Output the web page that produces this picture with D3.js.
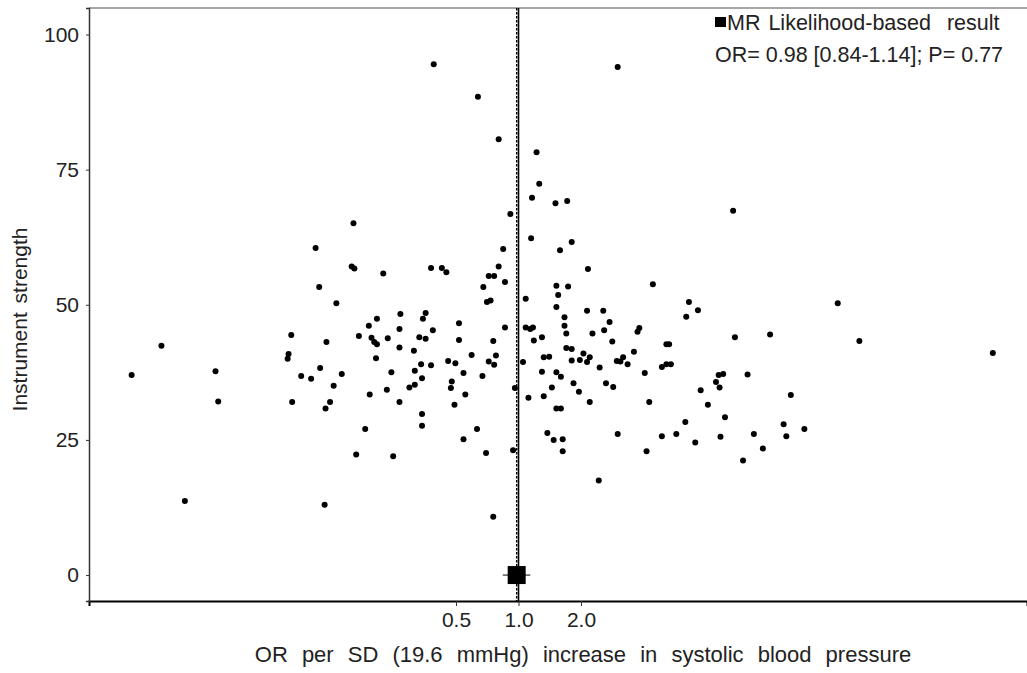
<!DOCTYPE html>
<html><head><meta charset="utf-8">
<script src="https://cdn.jsdelivr.net/npm/d3@7/dist/d3.min.js"></script>
<style>
body{margin:0;background:#fff}
text{font-family:"Liberation Sans",Arial,sans-serif;fill:#222}
</style>
</head><body><svg id="c" width="1027" height="673"></svg>
<script>
// ln(OR) per SD increase for each genetic instrument
const logOR = [-4.29,-3.96,-3.70,-3.36,-3.33,-2.55,-2.56,-2.52,-2.51,-2.41,-2.30,-2.25,-2.21,-2.20,-2.15,-2.14,-2.13,-2.09,-2.05,-2.02,
-1.96,-1.85,-1.82,-1.83,-1.80,-1.77,-1.70,-1.66,-1.65,-1.63,-1.60,-1.57,-1.57,-1.58,-1.50,-1.46,-1.45,-1.41,-1.39,-1.32,
-1.32,-1.32,-1.31,-1.21,-1.15,-1.16,-1.15,-1.10,-1.08,-1.07,-1.07,-1.07,-1.06,-1.03,-1.03,-0.97,-0.97,-0.95,-0.94,-0.85,
-0.80,-0.78,-0.74,-0.75,-0.71,-0.70,-0.66,-0.66,-0.61,-0.61,-0.59,-0.52,-0.46,-0.45,-0.40,-0.39,-0.36,-0.35,-0.33,-0.27,
-0.33,-0.31,-0.28,-0.27,-0.28,-0.25,-0.22,-0.22,-0.17,-0.15,-0.15,-0.09,-0.06,-0.04,0.05,0.08,0.08,0.13,0.16,0.11,
0.15,0.14,0.17,0.20,0.23,0.26,0.26,0.28,0.28,0.34,0.32,0.37,0.39,0.41,0.42,0.42,0.42,0.42,0.44,0.46,
0.47,0.47,0.49,0.49,0.51,0.51,0.53,0.53,0.54,0.55,0.59,0.59,0.59,0.61,0.67,0.68,0.72,0.76,0.76,0.77,
0.79,0.79,0.82,0.89,0.90,0.94,0.95,0.97,1.01,1.04,1.05,1.09,1.13,1.10,1.10,1.16,1.21,1.28,1.32,1.34,
1.40,1.42,1.45,1.49,1.59,1.59,1.64,1.69,1.64,1.67,1.75,1.85,1.86,1.89,1.96,1.99,2.02,2.10,2.19,2.22,
2.23,2.24,2.27,2.29,2.38,2.40,2.49,2.54,2.61,2.71,2.79,2.94,2.97,3.02,3.17,3.54,3.78,5.26];
// instrument strength for each genetic instrument
const strength = [37.0,42.4,13.7,37.7,32.1,40.9,40.0,44.4,32.0,36.8,36.3,60.5,53.3,38.3,13.0,30.8,43.1,32.0,35.0,50.3,
37.2,57.1,56.7,65.1,22.3,44.2,27.0,46.1,33.4,43.9,43.1,42.7,47.4,40.1,55.8,34.3,43.8,37.5,22.0,42.1,
45.5,32.0,48.3,34.7,35.2,41.5,37.8,44.0,39.0,36.4,29.8,27.6,47.4,48.5,43.7,56.8,38.8,45.3,94.5,56.8,
56.0,39.6,35.8,34.6,31.5,39.2,46.6,43.5,37.4,25.1,33.4,40.7,27.0,88.5,36.8,53.3,22.6,50.5,55.3,55.3,
39.5,50.8,43.3,38.9,10.8,40.6,80.6,57.1,60.3,54.2,45.8,66.8,23.1,34.6,39.4,51.1,45.8,45.5,45.8,32.8,
69.8,62.3,43.4,78.2,72.4,44.0,37.6,33.1,40.3,40.4,26.3,34.7,25.0,68.8,53.5,49.6,37.5,30.8,51.8,60.1,
36.7,30.8,25.1,22.9,47.7,46.1,44.7,42.0,69.2,53.4,61.6,41.8,39.7,35.5,33.9,39.8,41.0,48.9,39.4,56.6,
40.3,32.0,44.7,17.5,38.4,48.9,45.3,35.5,46.8,43.2,34.8,39.6,39.5,26.1,94.0,40.3,39.0,41.3,45.0,45.7,
37.4,22.9,32.0,53.8,25.7,38.5,39.0,39.0,42.7,42.7,26.1,28.3,47.8,50.5,24.5,49.0,34.2,31.5,35.7,37.0,
34.7,25.6,37.2,29.2,67.4,44.0,21.2,37.1,26.1,23.4,44.5,27.9,25.7,33.3,27.0,50.3,43.3,41.1];
// Pooled MR likelihood-based estimate
const mrOR = [0.98];
const mrLower = [0.84];
const mrUpper = [1.14];
const mrStrength = [0];
const xTickValues = [0.5, 1.0, 2.0];
const yTickValues = [0, 25, 50, 75, 100];
const legendLines = ["MR Likelihood-based\u00a0\u00a0result", "OR= 0.98 [0.84-1.14]; P= 0.77"];
const xTitle = "OR per SD (19.6 mmHg) increase in systolic blood pressure";
const yTitle = "Instrument strength";

const svg = d3.select("#c");
const L = 89, R = 1027, T = 8, B = 601;
const x = d3.scaleLinear().domain([-4.763, 5.639]).range([L, R]);
const y = d3.scaleLinear().domain([-4.8, 104.9]).range([B, T]);

// top border
svg.append("line").attr("x1", L).attr("x2", R).attr("y1", T).attr("y2", T)
  .attr("stroke", "#8a8a8a").attr("stroke-width", 1.5);

// points
svg.append("g").selectAll("circle").data(logOR.map((v, i) => [v, strength[i]]))
  .join("circle")
  .attr("cx", d => x(d[0])).attr("cy", d => y(d[1])).attr("r", 3).attr("fill", "#000");

// null line OR = 1
svg.append("line").attr("x1", x(0)).attr("x2", x(0)).attr("y1", T).attr("y2", B)
  .attr("stroke", "#000").attr("stroke-width", 1.6);
// MR estimate line
svg.append("line").attr("x1", x(Math.log(mrOR[0]))).attr("x2", x(Math.log(mrOR[0])))
  .attr("y1", T).attr("y2", B)
  .attr("stroke", "#000").attr("stroke-width", 1.4).attr("stroke-dasharray", "2.5,1.5");

// MR estimate CI and square
svg.append("line").attr("x1", x(Math.log(mrLower[0]))).attr("x2", x(Math.log(mrUpper[0])))
  .attr("y1", y(mrStrength[0])).attr("y2", y(mrStrength[0])).attr("stroke", "#000").attr("stroke-width", 1);
const sq = 18;
svg.append("rect").attr("x", x(Math.log(mrOR[0])) - sq / 2).attr("y", y(mrStrength[0]) - sq / 2)
  .attr("width", sq).attr("height", sq).attr("fill", "#000");

// axes
const fs = 21;
const gx = svg.append("g").attr("transform", `translate(0,${B})`)
  .call(d3.axisBottom(x).tickValues(xTickValues.map(Math.log)).tickSizeOuter(0).tickSize(5).tickPadding(6)
    .tickFormat(d => Math.exp(d).toFixed(1)));
gx.select(".domain").attr("stroke", "#000").attr("stroke-width", 2);
gx.selectAll(".tick line").attr("stroke", "#333");
gx.selectAll("text").attr("font-size", fs).attr("font-family", "Liberation Sans, Arial, sans-serif").attr("fill", "#222");

const gy = svg.append("g").attr("transform", `translate(${L},0)`)
  .call(d3.axisLeft(y).tickValues(yTickValues).tickSizeOuter(0).tickSize(3).tickPadding(7));
gy.select(".domain").attr("stroke", "#333").attr("stroke-width", 1.5);
gy.selectAll(".tick line").attr("stroke", "#333");
gy.selectAll("text").attr("font-size", fs).attr("font-family", "Liberation Sans, Arial, sans-serif").attr("fill", "#222");

// titles
svg.append("text").attr("x", 583).attr("y", 662).attr("text-anchor", "middle")
  .attr("font-size", 22).attr("word-spacing", 8).text(xTitle);
svg.append("text").attr("transform", `translate(27,${(T + B) / 2 + 15}) rotate(-90)`)
  .attr("text-anchor", "middle").attr("font-size", 21).attr("word-spacing", 3).text(yTitle);

// legend
const lg = svg.append("g");
lg.append("rect").attr("x", 715).attr("y", 17).attr("width", 11).attr("height", 10).attr("fill", "#000");
lg.append("text").attr("x", 727).attr("y", 30).attr("font-size", 21.5).attr("word-spacing", 2).text(legendLines[0]);
lg.append("text").attr("x", 715).attr("y", 62).attr("font-size", 21.5).text(legendLines[1]);
</script></body></html>
